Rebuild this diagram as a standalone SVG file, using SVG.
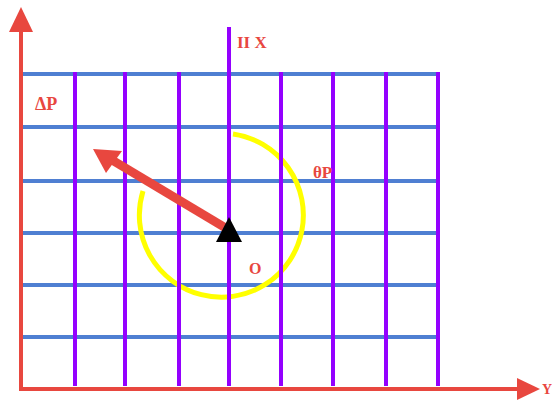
<svg xmlns="http://www.w3.org/2000/svg" width="552" height="403" viewBox="0 0 552 403">
<style>
.h{stroke:#4f7fd2;stroke-width:4;fill:none}
.v{stroke:#9400ff;stroke-width:4;fill:none}
.ax{stroke:#e8473f;stroke-width:4;fill:none}
.t{font-family:"Liberation Serif",serif;font-weight:bold;fill:#e8473f}
</style>
<rect width="552" height="403" fill="#ffffff"/>
<g id="grid-horizontal">
<line class="h" x1="23" y1="74" x2="438" y2="74"/>
<line class="h" x1="23" y1="127" x2="438" y2="127"/>
<line class="h" x1="23" y1="181" x2="438" y2="181"/>
<line class="h" x1="23" y1="233" x2="438" y2="233"/>
<line class="h" x1="23" y1="285" x2="438" y2="285"/>
<line class="h" x1="23" y1="337" x2="438" y2="337"/>
</g>
<g id="circle">
<path d="M 233 134 A 82 82 0 1 1 143 191" stroke="#ffff00" stroke-width="5" fill="none"/>
</g>
<g id="grid-vertical">
<line class="v" x1="75" y1="72" x2="75" y2="386"/>
<line class="v" x1="125" y1="72" x2="125" y2="386"/>
<line class="v" x1="179" y1="72" x2="179" y2="386"/>
<line class="v" x1="229" y1="27" x2="229" y2="386"/>
<line class="v" x1="281" y1="72" x2="281" y2="386"/>
<line class="v" x1="333" y1="72" x2="333" y2="386"/>
<line class="v" x1="386" y1="72" x2="386" y2="386"/>
<line class="v" x1="438" y1="72" x2="438" y2="386"/>
</g>
<g id="connectors">
<line class="ax" x1="21" y1="30" x2="21" y2="389"/>
<polygon points="21,7 9,32 33,32" fill="#e8473f"/>
<line class="ax" x1="19" y1="389" x2="518" y2="389"/>
<polygon points="540,389 517,378 517,400" fill="#e8473f"/>
<line x1="229" y1="230" x2="112" y2="160" stroke="#e8473f" stroke-width="9"/>
<polygon points="93,149 122,151 106,173" fill="#e8473f"/>
</g>
<g id="origin">
<polygon points="229,217 216,242 242,242" fill="#000000"/>
</g>
<g id="labels">
<text class="t" x="237" y="48" font-size="17">II X</text>
<text class="t" x="35" y="110" font-size="18">ΔP</text>
<text class="t" x="313" y="178" font-size="17">θP</text>
<text class="t" x="249" y="274" font-size="16">O</text>
<text class="t" x="542" y="394" font-size="14">Y</text>
</g>
</svg>
